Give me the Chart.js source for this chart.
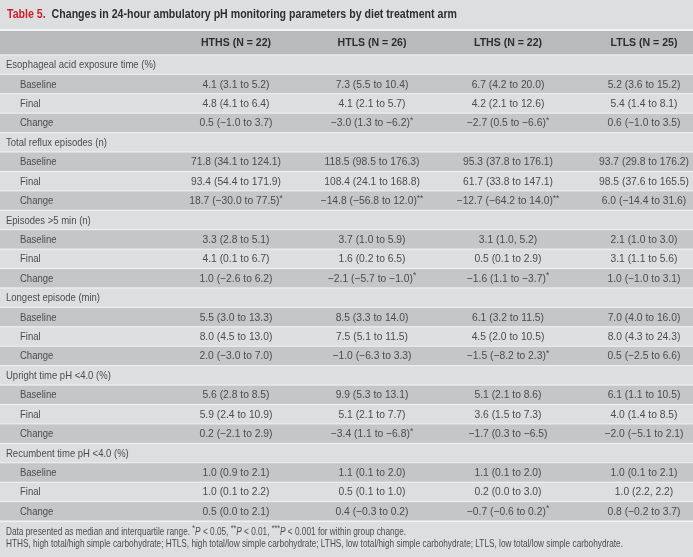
<!DOCTYPE html>
<html lang="en">
<head>
    <meta charset="UTF-8">
    <title>Table 5. Changes in 24-hour ambulatory pH monitoring parameters</title>
    <script src="https://cdn.jsdelivr.net/npm/chart.js"></script>
    <style>
        body {
    margin: 0;
    background-color: #dddee0;
}

canvas {
    display: block;
}
    </style>
</head>
<body>

<canvas id="tableChart" width="693" height="557"></canvas>

<script>
    // table content
    var titleLabel = "Table 5.";
    var titleText = "Changes in 24-hour ambulatory pH monitoring parameters by diet treatment arm";
    var groups = ["HTHS (N = 22)", "HTLS (N = 26)", "LTHS (N = 22)", "LTLS (N = 25)"];
    var sections = [
        "Esophageal acid exposure time (%)",
        "Total reflux episodes (n)",
        "Episodes >5 min (n)",
        "Longest episode (min)",
        "Upright time pH <4.0 (%)",
        "Recumbent time pH <4.0 (%)"
    ];
    var subRows = ["Baseline", "Final", "Change"];

    // median (interquartile range), 3 rows per section
    var hths = [
        "4.1 (3.1 to 5.2)", "4.8 (4.1 to 6.4)", "0.5 (\u22121.0 to 3.7)",
        "71.8 (34.1 to 124.1)", "93.4 (54.4 to 171.9)", "18.7 (\u221230.0 to 77.5)*",
        "3.3 (2.8 to 5.1)", "4.1 (0.1 to 6.7)", "1.0 (\u22122.6 to 6.2)",
        "5.5 (3.0 to 13.3)", "8.0 (4.5 to 13.0)", "2.0 (\u22123.0 to 7.0)",
        "5.6 (2.8 to 8.5)", "5.9 (2.4 to 10.9)", "0.2 (\u22122.1 to 2.9)",
        "1.0 (0.9 to 2.1)", "1.0 (0.1 to 2.2)", "0.5 (0.0 to 2.1)"
    ];
    var htls = [
        "7.3 (5.5 to 10.4)", "4.1 (2.1 to 5.7)", "\u22123.0 (1.3 to \u22126.2)*",
        "118.5 (98.5 to 176.3)", "108.4 (24.1 to 168.8)", "\u221214.8 (\u221256.8 to 12.0)**",
        "3.7 (1.0 to 5.9)", "1.6 (0.2 to 6.5)", "\u22122.1 (\u22125.7 to \u22121.0)*",
        "8.5 (3.3 to 14.0)", "7.5 (5.1 to 11.5)", "\u22121.0 (\u22126.3 to 3.3)",
        "9.9 (5.3 to 13.1)", "5.1 (2.1 to 7.7)", "\u22123.4 (1.1 to \u22126.8)*",
        "1.1 (0.1 to 2.0)", "0.5 (0.1 to 1.0)", "0.4 (\u22120.3 to 0.2)"
    ];
    var lths = [
        "6.7 (4.2 to 20.0)", "4.2 (2.1 to 12.6)", "\u22122.7 (0.5 to \u22126.6)*",
        "95.3 (37.8 to 176.1)", "61.7 (33.8 to 147.1)", "\u221212.7 (\u221264.2 to 14.0)**",
        "3.1 (1.0, 5.2)", "0.5 (0.1 to 2.9)", "\u22121.6 (1.1 to \u22123.7)*",
        "6.1 (3.2 to 11.5)", "4.5 (2.0 to 10.5)", "\u22121.5 (\u22128.2 to 2.3)*",
        "5.1 (2.1 to 8.6)", "3.6 (1.5 to 7.3)", "\u22121.7 (0.3 to \u22126.5)",
        "1.1 (0.1 to 2.0)", "0.2 (0.0 to 3.0)", "\u22120.7 (\u22120.6 to 0.2)*"
    ];
    var ltls = [
        "5.2 (3.6 to 15.2)", "5.4 (1.4 to 8.1)", "0.6 (\u22121.0 to 3.5)",
        "93.7 (29.8 to 176.2)", "98.5 (37.6 to 165.5)", "6.0 (\u221214.4 to 31.6)",
        "2.1 (1.0 to 3.0)", "3.1 (1.1 to 5.6)", "1.0 (\u22121.0 to 3.1)",
        "7.0 (4.0 to 16.0)", "8.0 (4.3 to 24.3)", "0.5 (\u22122.5 to 6.6)",
        "6.1 (1.1 to 10.5)", "4.0 (1.4 to 8.5)", "\u22122.0 (\u22125.1 to 2.1)",
        "1.0 (0.1 to 2.1)", "1.0 (2.2, 2.2)", "0.8 (\u22120.2 to 3.7)"
    ];
    var columns = [hths, htls, lths, ltls];

    var footnote2 = "HTHS, high total/high simple carbohydrate; HTLS, high total/low simple carbohydrate; LTHS, low total/high simple carbohydrate; LTLS, low total/low simple carbohydrate.";

    // layout / style
    var HEADER_UNITS = 1.23;
    var BG = "#dddee0";
    var DARK = "#c5c6c8";
    var HEAD_BG = "#b9babc";
    var LINE = "#f3f3f3";
    var TEXT = "#4c4c4c";
    var HEAD_TEXT = "#2e2e2e";
    var RED = "#c8202f";
    var FONT = '"Liberation Sans", Arial, sans-serif';

    // build one row per line of the table
    var rows = [];
    sections.forEach(function (s, si) {
        rows.push({ label: s, section: true });
        subRows.forEach(function (r, ri) {
            rows.push({
                label: r,
                section: false,
                dark: ri !== 1,
                cells: columns.map(function (c) { return c[si * 3 + ri]; })
            });
        });
    });

    function squeeze(ctx, font, ref, target) {
        ctx.font = font;
        return target / ctx.measureText(ref).width;
    }

    function drawText(ctx, str, x, y, sx) {
        ctx.save();
        ctx.translate(x, y);
        ctx.scale(sx, 1);
        ctx.fillText(str, 0, 0);
        ctx.restore();
    }

    // draw segments [{t, font, dy}] starting at x
    function drawRun(ctx, parts, x, y, sx) {
        parts.forEach(function (p) {
            ctx.font = p.font;
            drawText(ctx, p.t, x, y + (p.dy || 0), sx);
            x += ctx.measureText(p.t).width * sx;
        });
        return x;
    }

    function runWidth(ctx, parts, sx) {
        var w = 0;
        parts.forEach(function (p) {
            ctx.font = p.font;
            w += ctx.measureText(p.t).width * sx;
        });
        return w;
    }

    var tablePlugin = {
        id: "tableDraw",
        afterDraw: function (chart) {
            var ctx = chart.ctx;
            var x = chart.scales.x;
            var y = chart.scales.y;
            var area = chart.chartArea;
            var W = chart.width;

            var dataFont = "11px " + FONT;
            var supFont = "9px " + FONT;
            var headFont = "bold 11px " + FONT;
            var titleFont = "bold 12px " + FONT;
            var noteFont = "10.5px " + FONT;
            var noteItalic = "italic 10.5px " + FONT;

            var sxData = squeeze(ctx, dataFont, "4.1 (3.1 to 5.2)", 67);
            var sxLabel = squeeze(ctx, dataFont, sections[0], 150);
            var sxHead = squeeze(ctx, headFont, groups[0], 70);
            var sxTitle = squeeze(ctx, titleFont, titleLabel + "  " + titleText, 450);
            var sxNote = squeeze(ctx, noteFont, footnote2, 617);

            ctx.save();
            ctx.fillStyle = BG;
            ctx.fillRect(0, 0, W, chart.height);
            ctx.textBaseline = "middle";

            // title
            ctx.textAlign = "left";
            var tx = 7;
            ctx.font = titleFont;
            ctx.fillStyle = RED;
            drawText(ctx, titleLabel, tx, 15, sxTitle);
            tx += ctx.measureText(titleLabel + "  ").width * sxTitle;
            ctx.fillStyle = HEAD_TEXT;
            drawText(ctx, titleText, tx, 15, sxTitle);

            // header band
            var hTop = y.getPixelForValue(-HEADER_UNITS);
            var hBot = y.getPixelForValue(0);
            ctx.fillStyle = LINE;
            ctx.fillRect(0, hTop - 2, W, 2);
            ctx.fillStyle = HEAD_BG;
            ctx.fillRect(0, hTop, W, hBot - hTop);
            ctx.font = headFont;
            ctx.fillStyle = HEAD_TEXT;
            ctx.textAlign = "center";
            groups.forEach(function (g, i) {
                drawText(ctx, g, x.getPixelForValue(i), (hTop + hBot) / 2, sxHead);
            });

            // body rows
            rows.forEach(function (r, i) {
                var top = y.getPixelForValue(i);
                var bot = y.getPixelForValue(i + 1);
                var mid = (top + bot) / 2 + 0.5;
                ctx.fillStyle = r.dark ? DARK : BG;
                ctx.fillRect(0, top, W, bot - top);
                ctx.fillStyle = LINE;
                ctx.fillRect(0, top - 0.5, W, 1);

                ctx.fillStyle = TEXT;
                ctx.font = dataFont;
                ctx.textAlign = "left";
                drawText(ctx, r.label, area.left + (r.section ? 6 : 20), mid, sxLabel);

                if (!r.section) {
                    r.cells.forEach(function (c, ci) {
                        var m = c.match(/^(.*?)(\**)$/);
                        var parts = [{ t: m[1], font: dataFont }];
                        if (m[2]) parts.push({ t: m[2], font: supFont, dy: -3 });
                        var w = runWidth(ctx, parts, sxData);
                        drawRun(ctx, parts, x.getPixelForValue(ci) - w / 2, mid, sxData);
                    });
                }
            });

            // footnotes
            var last = y.getPixelForValue(rows.length);
            ctx.fillStyle = LINE;
            ctx.fillRect(0, last - 0.5, W, 1.5);
            ctx.fillStyle = TEXT;
            ctx.textAlign = "left";
            var note1 = [
                { t: "Data presented as median and interquartile range. ", font: noteFont },
                { t: "*", font: supFont, dy: -3 },
                { t: "P", font: noteItalic },
                { t: " < 0.05, ", font: noteFont },
                { t: "**", font: supFont, dy: -3 },
                { t: "P", font: noteItalic },
                { t: " < 0.01, ", font: noteFont },
                { t: "***", font: supFont, dy: -3 },
                { t: "P", font: noteItalic },
                { t: " < 0.001 for within group change.", font: noteFont }
            ];
            drawRun(ctx, note1, 6, 532, sxNote);
            ctx.font = noteFont;
            drawText(ctx, footnote2, 6, 544, sxNote);

            ctx.restore();
        }
    };

    var ctx = document.getElementById("tableChart").getContext("2d");
    var tableChart = new Chart(ctx, {
        type: "scatter",
        data: { datasets: [{ data: [] }] },
        options: {
            responsive: false,
            animation: false,
            layout: { padding: { top: 31, bottom: 36, left: 0, right: 0 } },
            plugins: {
                legend: { display: false },
                tooltip: { enabled: false }
            },
            scales: {
                x: { type: "linear", min: -236 / 136, max: (693 - 236) / 136, display: false },
                y: { type: "linear", min: -HEADER_UNITS, max: rows.length, reverse: true, display: false }
            }
        },
        plugins: [tablePlugin]
    });
</script>

</body>
</html>
